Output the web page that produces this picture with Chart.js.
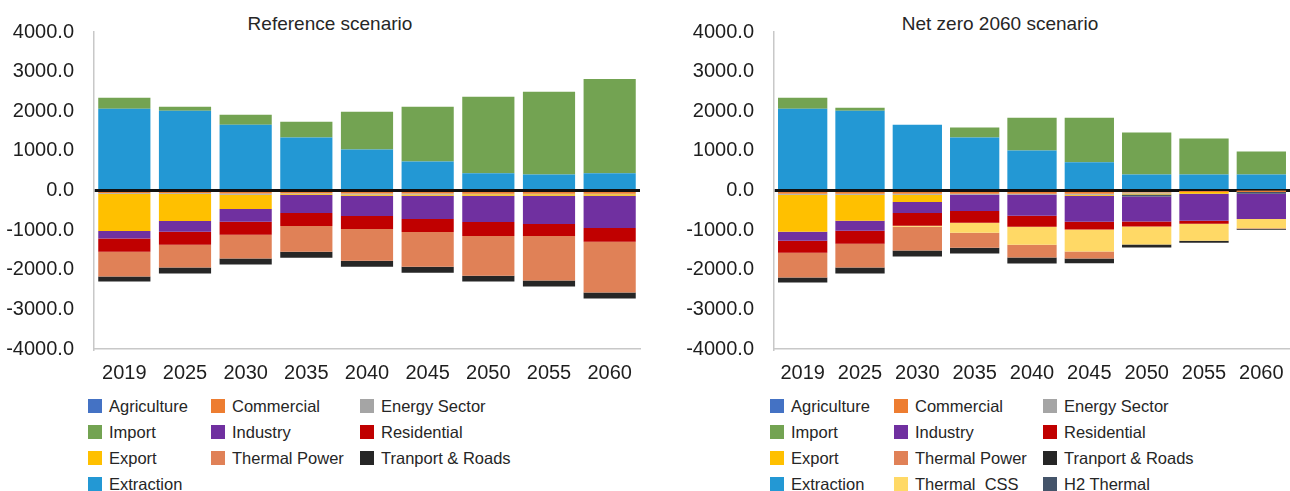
<!DOCTYPE html>
<html>
<head>
<meta charset="utf-8">
<script src="https://cdn.jsdelivr.net/npm/chart.js@4.4.1/dist/chart.umd.min.js"></script>
<style>
  body { margin: 0; width: 1290px; height: 491px; background: #fff; position: relative; overflow: hidden; font-family: "Liberation Sans", Arial, sans-serif; }
  .title { position: absolute; top: 13px; font-size: 19px; color: #262626; transform: translateX(-50%); white-space: nowrap; }
  canvas { position: absolute; top: 0; }
  .legend { position: absolute; top: 393px; display: grid; grid-auto-rows: 26px; font-size: 16.5px; line-height: 1; color: #262626; }
  .legend div { display: flex; align-items: center; white-space: pre; }
  .legend .sw { width: 14px; height: 14px; margin-right: 7px; flex: none; }
</style>
</head>
<body>
<div class="title" style="left:330px">Reference scenario</div>
<div class="title" style="left:1000px">Net zero 2060 scenario</div>
<canvas id="refChart" width="660" height="390" style="left:0"></canvas>
<canvas id="nzChart" width="610" height="390" style="left:680px"></canvas>
<div class="legend" id="refLegend" style="left:88px; grid-template-columns:123px 149px auto"></div>
<div class="legend" id="nzLegend" style="left:770px; grid-template-columns:124px 149px auto"></div>

<script>
const years = ['2019', '2025', '2030', '2035', '2040', '2045', '2050', '2055', '2060'];
const yTicks = [-4000, -3000, -2000, -1000, 0, 1000, 2000, 3000, 4000];

// Reference scenario
const refAgriculture = [0, 0, 0, 0, 0, 0, 0, 0, 0];
const refCommercial = [-65, -65, -75, -70, -75, -75, -85, -85, -85];
const refEnergySector = [-18, -18, -30, -15, -25, -25, -10, -10, -10];
const refExport = [-936, -685, -359, -25, -35, -35, -40, -40, -40];
const refExtraction = [2063, 2013, 1662, 1337, 1036, 735, 434, 401, 434];
const refImport = [277, 100, 251, 401, 952, 1379, 1930, 2089, 2381];
const refIndustry = [-192, -276, -326, -459, -510, -585, -660, -710, -810];
const refResidential = [-334, -326, -326, -326, -326, -326, -351, -301, -351];
const refThermalPower = [-627, -576, -601, -652, -802, -877, -1003, -1128, -1278];
const refTransport = [-125, -150, -150, -150, -150, -150, -150, -150, -150];

// Net zero 2060 scenario
const nzAgriculture = [0, 0, 0, 0, 0, 0, 0, 0, 0];
const nzCommercial = [-80, -80, -80, -85, -85, -85, -50, -10, -5];
const nzEnergySector = [-25, -25, -25, -20, -20, -20, -25, -10, -10];
const nzExport = [-936, -660, -184, 0, 0, -30, -25, -60, -15];
const nzExtraction = [2063, 2013, 1662, 1337, 1011, 710, 401, 401, 401];
const nzH2Thermal = [0, 0, 0, 0, 0, 0, -50, 0, -50];
const nzImport = [277, 76, 0, 250, 827, 1128, 1061, 911, 585];
const nzIndustry = [-226, -251, -276, -410, -535, -652, -635, -685, -640];
const nzResidential = [-301, -326, -326, -301, -276, -200, -125, -75, 0];
const nzThermalCSS = [0, 0, -25, -251, -451, -551, -451, -426, -230];
const nzThermalPower = [-627, -601, -601, -376, -326, -175, 0, 0, -17];
const nzTransport = [-125, -150, -150, -150, -150, -125, -75, -50, -25];

const colors = {
  'Agriculture': '#4472C4',
  'Commercial': '#ED7D31',
  'Energy Sector': '#A5A5A5',
  'Export': '#FFC000',
  'Extraction': '#2398D4',
  'H2 Thermal': '#44546A',
  'Import': '#73A352',
  'Industry': '#7030A0',
  'Residential': '#C00000',
  'Thermal  CSS': '#FFD966',
  'Thermal Power': '#E08157',
  'Tranport & Roads': '#262626'
};

// stacking order = dataset order (first one sits next to zero)
const refSeries = [
  ['Agriculture', refAgriculture],
  ['Commercial', refCommercial],
  ['Energy Sector', refEnergySector],
  ['Export', refExport],
  ['Extraction', refExtraction],
  ['Import', refImport],
  ['Industry', refIndustry],
  ['Residential', refResidential],
  ['Thermal Power', refThermalPower],
  ['Tranport & Roads', refTransport]
];
const nzSeries = [
  ['Agriculture', nzAgriculture],
  ['Commercial', nzCommercial],
  ['Energy Sector', nzEnergySector],
  ['Export', nzExport],
  ['Extraction', nzExtraction],
  ['H2 Thermal', nzH2Thermal],
  ['Import', nzImport],
  ['Industry', nzIndustry],
  ['Residential', nzResidential],
  ['Thermal  CSS', nzThermalCSS],
  ['Thermal Power', nzThermalPower],
  ['Tranport & Roads', nzTransport]
];

const refLegendOrder = ['Agriculture', 'Commercial', 'Energy Sector', 'Import', 'Industry', 'Residential',
  'Export', 'Thermal Power', 'Tranport & Roads', 'Extraction'];
const nzLegendOrder = ['Agriculture', 'Commercial', 'Energy Sector', 'Import', 'Industry', 'Residential',
  'Export', 'Thermal Power', 'Tranport & Roads', 'Extraction', 'Thermal  CSS', 'H2 Thermal'];

const fontFamily = '"Liberation Sans", Arial, sans-serif';

function buildChart(id, series, padRight) {
  const datasets = series.map(([label, data]) => ({
    label: label,
    data: data,
    backgroundColor: colors[label],
    borderWidth: 0
  }));
  return new Chart(document.getElementById(id), {
    type: 'bar',
    data: { labels: years, datasets: datasets },
    options: {
      responsive: false,
      animation: false,
      layout: { padding: { top: 30, right: padRight, left: 0, bottom: 0 } },
      datasets: { bar: { barPercentage: 0.86, categoryPercentage: 1 } },
      plugins: { legend: { display: false }, tooltip: { enabled: false } },
      scales: {
        x: {
          stacked: true,
          grid: { display: false },
          border: { color: '#c8c8c8', width: 1.5 },
          ticks: { color: '#1e1e1e', font: { size: 20, family: fontFamily }, padding: 4, maxRotation: 0 },
          afterFit: (scale) => { scale.height = 41; }
        },
        y: {
          stacked: true,
          min: yTicks[0],
          max: yTicks[yTicks.length - 1],
          z: 1,
          afterBuildTicks: (scale) => { scale.ticks = yTicks.map(v => ({ value: v })); },
          ticks: {
            color: '#1e1e1e',
            font: { size: 20, family: fontFamily },
            padding: 20,
            callback: (v) => Number(v).toFixed(1)
          },
          grid: {
            drawTicks: false,
            lineWidth: 3,
            color: (ctx) => (ctx.tick && ctx.tick.value === 0) ? '#111111' : 'rgba(0,0,0,0)'
          },
          border: { color: '#c8c8c8', width: 1.5 },
          afterFit: (scale) => { scale.width = 94; }
        }
      }
    }
  });
}

function buildLegend(id, order) {
  const box = document.getElementById(id);
  box.innerHTML = order.map(label =>
    `<div><span class="sw" style="background:${colors[label]}"></span>${label.replace('&', '&amp;')}</div>`
  ).join('');
}

buildChart('refChart', refSeries, 20);
buildChart('nzChart', nzSeries, 0);
buildLegend('refLegend', refLegendOrder);
buildLegend('nzLegend', nzLegendOrder);
</script>
</body>
</html>
